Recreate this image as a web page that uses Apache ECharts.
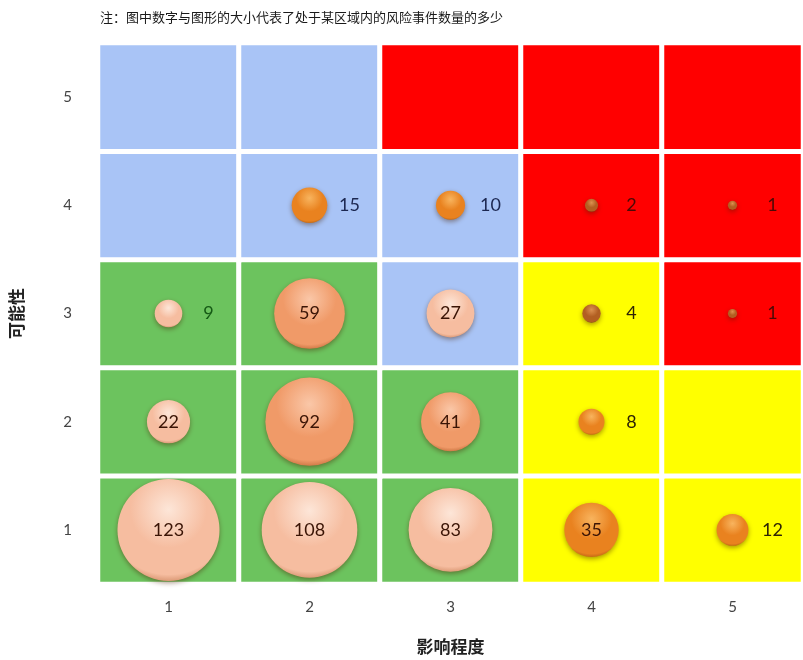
<!DOCTYPE html>
<html>
<head>
<meta charset="utf-8">
<script src="https://cdn.jsdelivr.net/npm/echarts@6/dist/echarts.min.js"></script>
<style>
html,body{margin:0;padding:0;background:#fff;}
#chart{width:803px;height:660px;}
</style>
</head>
<body>
<div id="chart"></div>
<script>
// ---- data ----
const impactLabels = ['1', '2', '3', '4', '5'];
const likelihoodLabels = ['1', '2', '3', '4', '5'];
// risk event counts, one array per likelihood level (impact 1..5)
const countsL1 = [123, 108, 83, 35, 12];
const countsL2 = [22, 92, 41, 8, null];
const countsL3 = [9, 59, 27, 4, 1];
const countsL4 = [null, 15, 10, 2, 1];
const countsL5 = [null, null, null, null, null];
// risk zone of each cell: 1 low (green), 2 moderate (blue), 3 high (yellow), 4 extreme (red)
const zoneL1 = [1, 1, 1, 3, 3];
const zoneL2 = [1, 1, 1, 3, 3];
const zoneL3 = [1, 1, 2, 3, 4];
const zoneL4 = [2, 2, 2, 4, 4];
const zoneL5 = [2, 2, 4, 4, 4];
const titleText = '注：图中数字与图形的大小代表了处于某区域内的风险事件数量的多少';

// ---- styles ----
const zoneColors = {1: '#6cc35e', 2: '#a9c4f6', 3: '#ffff00', 4: '#ff0000'};
const zoneTextColors = {1: '#155a15', 2: '#1c2750', 3: '#2e2405', 4: '#4a0a05'};
const bubbleTones = {
  light: ['#fde6d8', '#f6bda0', '#c98058'],
  salmon: ['#fac7a8', '#f09a68', '#b9622f'],
  orange: ['#f8b45e', '#e9821f', '#a9570c'],
  brown: ['#dc9150', '#b25f22', '#6a340c']
};
const toneOfCell = {
  '0-0': 'light', '1-0': 'light', '2-0': 'light', '3-0': 'orange', '4-0': 'orange',
  '0-1': 'light', '1-1': 'salmon', '2-1': 'salmon', '3-1': 'orange',
  '0-2': 'light', '1-2': 'salmon', '2-2': 'light', '3-2': 'brown', '4-2': 'brown',
  '1-3': 'orange', '2-3': 'orange', '3-3': 'brown', '4-3': 'brown'
};

const countRows = [countsL1, countsL2, countsL3, countsL4, countsL5];
const zoneRows = [zoneL1, zoneL2, zoneL3, zoneL4, zoneL5];

const cellData = [];
zoneRows.forEach((row, yi) => row.forEach((z, xi) => {
  cellData.push({value: [xi, yi, z], itemStyle: {color: zoneColors[z]}});
}));

const bubbleData = [];
countRows.forEach((row, yi) => row.forEach((v, xi) => {
  if (v == null) return;
  const tone = bubbleTones[toneOfCell[xi + '-' + yi] || 'orange'];
  const outside = v < 20;
  bubbleData.push({
    value: [xi, yi, v],
    itemStyle: {
      opacity: 1,
      color: {
        type: 'radial', x: 0.5, y: 0.3, r: 0.75,
        colorStops: [
          {offset: 0, color: tone[0]},
          {offset: 0.5, color: tone[1]},
          {offset: 0.85, color: tone[1]},
          {offset: 1, color: tone[2]}
        ]
      }
    },
    label: {
      position: 'inside',
      offset: outside ? [40, 0] : [0, 0],
      color: outside ? zoneTextColors[zoneRows[yi][xi]] : '#3a1405'
    }
  });
}));

const chart = echarts.init(document.getElementById('chart'));
chart.setOption({
  backgroundColor: '#ffffff',
  animation: false,
  title: {
    text: titleText,
    left: 95, top: 6,
    textStyle: {fontSize: 13, fontWeight: 'normal', color: '#1a1a1a', fontFamily: 'Noto Sans CJK SC'}
  },
  grid: {left: 98, right: -3, top: 43, bottom: 69},
  xAxis: {
    type: 'category', data: impactLabels,
    name: '影响程度', nameLocation: 'middle', nameGap: 54,
    nameTextStyle: {fontSize: 17, fontWeight: 'bold', color: '#222', fontFamily: 'Noto Sans CJK SC'},
    axisLine: {show: false}, axisTick: {show: false}, splitLine: {show: false},
    axisLabel: {margin: 16, fontSize: 15, color: '#444', fontFamily: 'Lato'}
  },
  yAxis: {
    type: 'category', data: likelihoodLabels,
    name: '可能性', nameLocation: 'middle', nameGap: 73, nameRotate: 90,
    nameTextStyle: {fontSize: 17, fontWeight: 'bold', color: '#222', fontFamily: 'Noto Sans CJK SC'},
    axisLine: {show: false}, axisTick: {show: false}, splitLine: {show: false},
    axisLabel: {margin: 26, fontSize: 15, color: '#444', fontFamily: 'Lato'}
  },
  series: [
    {
      type: 'heatmap',
      data: cellData,
      itemStyle: {borderColor: '#ffffff', borderWidth: 5},
      emphasis: {disabled: true},
      silent: true
    },
    {
      type: 'scatter',
      data: bubbleData,
      symbolSize: function (val) { return 9.2 * Math.sqrt(val[2]); },
      itemStyle: {opacity: 1, shadowBlur: 5, shadowColor: 'rgba(70,30,0,0.45)', shadowOffsetY: 2},
      label: {
        show: true,
        formatter: function (p) { return p.value[2]; },
        fontSize: 18,
        fontFamily: 'Lato'
      },
      z: 3
    }
  ]
});
</script>
</body>
</html>
